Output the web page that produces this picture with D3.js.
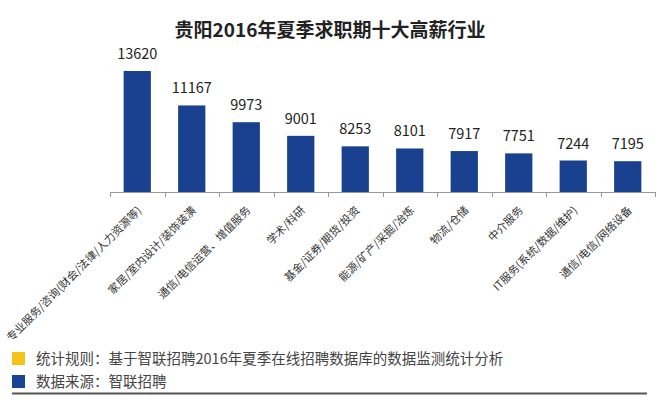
<!DOCTYPE html>
<html><head><meta charset="utf-8">
<script src="https://cdn.jsdelivr.net/npm/d3@7/dist/d3.min.js"></script>
<style>body{margin:0;background:#fff}svg{display:block}</style>
</head><body>
<svg id="c" width="659" height="400"></svg>
<script>
const title = "贵阳2016年夏季求职期十大高薪行业";
const categories = ["专业服务/咨询(财会/法律/人力资源等)","家居/室内设计/装饰装潢","通信/电信运营、增值服务","学术/科研","基金/证券/期货/投资","能源/矿产/采掘/冶炼","物流/仓储","中介服务","IT服务(系统/数据/维护)","通信/电信/网络设备"];
const values = [13620,11167,9973,9001,8253,8101,7917,7751,7244,7195];
const legendLabels = ["统计规则：基于智联招聘2016年夏季在线招聘数据库的数据监测统计分析","数据来源：智联招聘"];
const legendColors = ["#f4c418","#1a4596"];

const font = "'Noto Sans CJK SC','Noto Sans',sans-serif";
const svg = d3.select("#c");
const x = d3.scaleBand().domain(categories).range([110,655]).paddingInner(0.5).paddingOuter(0.25);
const y = d3.scaleLinear().domain([5000,14000]).range([192,192-9000*121/8620]);

svg.append("text").attr("x",330).attr("y",37).attr("text-anchor","middle")
  .attr("font-family",font).attr("font-weight","bold").attr("font-size",19).attr("fill","#222").text(title);

svg.selectAll("rect.bar").data(values).join("rect").attr("class","bar")
  .attr("x",(d,i)=>x(categories[i])).attr("width",x.bandwidth())
  .attr("y",d=>y(d)).attr("height",d=>y(5000)-y(d)).attr("fill","#1a4190");

svg.selectAll("text.val").data(values).join("text").attr("class","val")
  .attr("x",(d,i)=>x(categories[i])+x.bandwidth()/2).attr("y",d=>y(d)-12)
  .attr("text-anchor","middle").attr("font-family",font).attr("font-size",14.5).attr("fill","#222").text(d=>d);

// axis
const step = x.step();
const ticks = d3.range(categories.length+1).map(i=>110+i*step);
svg.append("line").attr("x1",110).attr("x2",655).attr("y1",192.5).attr("y2",192.5).attr("stroke","#999").attr("stroke-width",1.2);
svg.selectAll("line.tick").data(ticks).join("line").attr("class","tick")
  .attr("x1",d=>Math.round(d)+0.5).attr("x2",d=>Math.round(d)+0.5).attr("y1",192).attr("y2",197).attr("stroke","#999");

svg.selectAll("text.cat").data(categories).join("text").attr("class","cat")
  .attr("transform",d=>`translate(${x(d)+x.bandwidth()/2+5},211) rotate(-45)`)
  .attr("text-anchor","end").attr("font-family",font).attr("font-size",11).attr("fill","#333").text(d=>d);

// legend
const ly = [352,375];
legendLabels.forEach((t,i)=>{
  svg.append("rect").attr("x",12).attr("y",ly[i]).attr("width",13).attr("height",13).attr("fill",legendColors[i]);
  svg.append("text").attr("x",36).attr("y",ly[i]+12).attr("font-family",font).attr("font-size",14.5).attr("fill","#444").text(t);
});
svg.append("line").attr("x1",12).attr("x2",647).attr("y1",393.5).attr("y2",393.5).attr("stroke","#555").attr("stroke-width",2);
</script>
</body></html>
